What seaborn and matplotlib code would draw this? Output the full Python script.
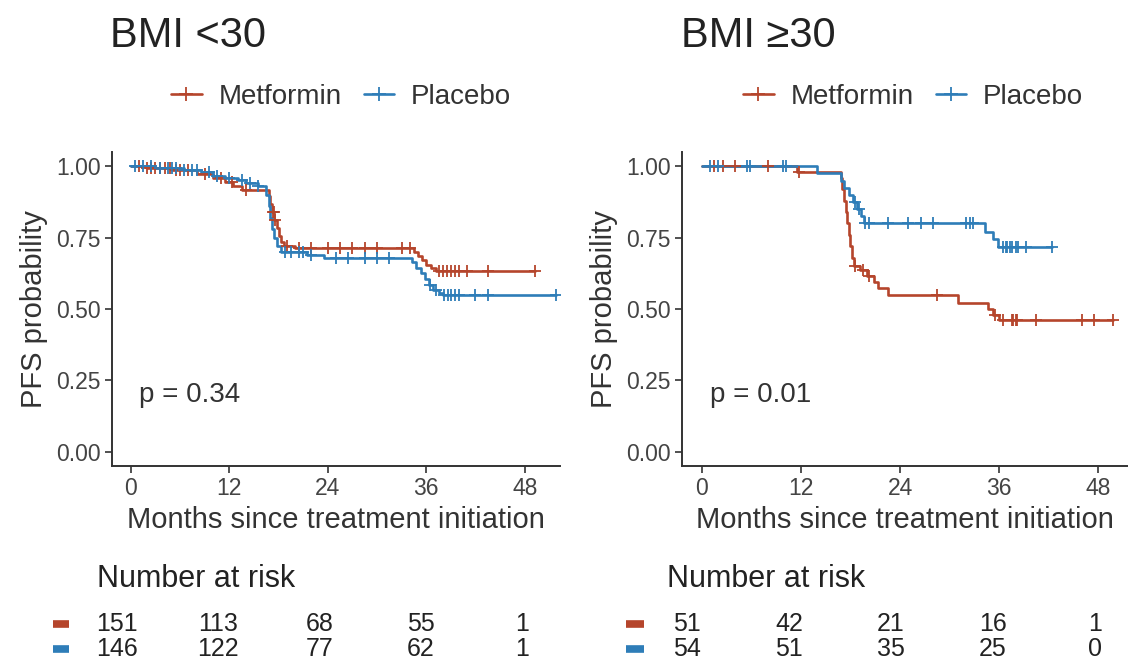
import numpy as np
import pandas as pd
import matplotlib
matplotlib.use("Agg")
import matplotlib.pyplot as plt
import seaborn as sns
from matplotlib.lines import Line2D

# ---------------- data ----------------
groups = ["Metformin", "Placebo"]
panel_titles = ["BMI <30", "BMI \u226530"]
p_values = ["p = 0.34", "p = 0.01"]
risk_times = [0, 12, 24, 36, 48]
xticks = [0, 12, 24, 36, 48]
yticks = [0.00, 0.25, 0.50, 0.75, 1.00]

# BMI < 30 : Metformin
lo_met_t = [0, 2.0, 5.0, 8.0, 10.0, 11.5, 12.5, 13.5, 16.8, 17.0, 17.2, 17.5, 17.8, 18.0, 18.3, 18.7, 20.0,
            34.5, 35.0, 35.5, 36.0, 36.6, 37.2, 49.3]
lo_met_s = [1.0, 0.993, 0.986, 0.972, 0.958, 0.944, 0.930, 0.916, 0.895, 0.868, 0.840, 0.812, 0.784, 0.756, 0.735, 0.721, 0.712,
            0.700, 0.685, 0.670, 0.655, 0.642, 0.632, 0.632]
lo_met_c = [1, 2, 2.5, 3, 3.5, 4.2, 4.8, 5.5, 6, 7, 9, 11, 12.3, 14, 17.3, 17.4, 17.6, 19, 20.5, 22, 24, 25.5, 27,
            28.5, 30, 33, 34, 37.5, 38, 38.5, 39, 39.5, 40, 41, 43.5, 49.3]

# BMI < 30 : Placebo
lo_pla_t = [0, 3.0, 6.5, 8.5, 10.0, 11.5, 13.0, 14.0, 15.5, 16.5, 16.8, 17.0, 17.2, 17.5, 17.8, 18.3, 21.5, 23.5,
            34.3, 34.8, 35.3, 35.8, 36.3, 36.8, 37.5, 38.0, 51.8]
lo_pla_s = [1.0, 0.993, 0.986, 0.979, 0.965, 0.958, 0.951, 0.940, 0.930, 0.900, 0.860, 0.820, 0.780, 0.750, 0.720, 0.700, 0.690, 0.678,
            0.665, 0.645, 0.625, 0.605, 0.585, 0.568, 0.556, 0.548, 0.548]
lo_pla_c = [0.5, 1.5, 2.5, 3.5, 4.5, 5, 5.5, 6.5, 7.5, 8, 9.5, 10.5, 12, 13.5, 14.5, 15.5, 18.8, 19.5, 20.5, 21, 22,
            25, 26.5, 28.5, 30, 31.5, 36.5, 37.2, 38.2, 38.6, 39, 39.5, 40, 42, 43.5, 51.8]

# BMI >= 30 : Metformin
hi_met_t = [0, 11.5, 16.8, 17.0, 17.2, 17.4, 17.6, 17.8, 18.0, 18.2, 18.4, 19.2, 20.0, 20.8, 21.3, 22.5,
            31.0, 34.7, 35.3, 36.0, 49.8]
hi_met_s = [1.0, 0.980, 0.960, 0.920, 0.880, 0.840, 0.800, 0.760, 0.720, 0.680, 0.650, 0.635, 0.615, 0.595, 0.575, 0.548,
            0.520, 0.500, 0.480, 0.460, 0.460]
hi_met_c = [1.5, 2.6, 4, 8, 11.8, 18.6, 19.5, 20.3, 28.5, 35.5, 36.5, 37.5, 37.7, 38, 38.2, 40.5, 46, 47.5, 49.8]

# BMI >= 30 : Placebo
hi_pla_t = [0, 14.0, 16.8, 17.2, 17.8, 18.3, 18.8, 19.3, 19.6, 34.3, 35.2, 35.8, 42.4]
hi_pla_s = [1.0, 0.975, 0.950, 0.925, 0.900, 0.875, 0.850, 0.825, 0.800, 0.770, 0.745, 0.716, 0.716]
hi_pla_c = [1, 2, 5.5, 5.8, 9.8, 10.2, 18.5, 19.0, 19.8, 20.2, 22.5, 25, 26.5, 28, 32, 32.5, 32.8,
            36.5, 36.8, 37, 37.3, 37.6, 38, 38.3, 39.2, 42.4]

risk_lo_met = [151, 113, 68, 55, 1]
risk_lo_pla = [146, 122, 77, 62, 1]
risk_hi_met = [51, 42, 21, 16, 1]
risk_hi_pla = [54, 51, 35, 25, 0]

# ---------------- style ----------------
RED = "#B5452C"
BLUE = "#2E7DB8"
colors = {"Metformin": RED, "Placebo": BLUE}

sns.set_theme(style="white")
plt.rcParams["font.family"] = ["Liberation Sans", "DejaVu Sans"]

W, H = 1128, 662
fig = plt.figure(figsize=(W / 100, H / 100), dpi=100)


def fx(px):
    return px / W


def fy(py):
    return (H - py) / H


panels = [
    dict(curves=[(lo_met_t, lo_met_s, lo_met_c, "Metformin"), (lo_pla_t, lo_pla_s, lo_pla_c, "Placebo")],
         ax_px=(112, 560), xlim=(-2.3, 52.3), risk=[risk_lo_met, risk_lo_pla],
         tab_px=(96, 560), tab_xlim=(-2.49, 52.49), dash=(-7.6, -5.7), title_x=110, legend_cx=341),
    dict(curves=[(hi_met_t, hi_met_s, hi_met_c, "Metformin"), (hi_pla_t, hi_pla_s, hi_pla_c, "Placebo")],
         ax_px=(682, 1128), xlim=(-2.4, 51.6), risk=[risk_hi_met, risk_hi_pla],
         tab_px=(666, 1128), tab_xlim=(-2.47, 51.88), dash=(-7.2, -5.0), title_x=681, legend_cx=913),
]

ax_top, ax_bot = 152, 466
for i, pnl in enumerate(panels):
    x0, x1 = pnl["ax_px"]
    ax = fig.add_axes([fx(x0), fy(ax_bot), (x1 - x0) / W, (ax_bot - ax_top) / H])
    for t, s, c, name in pnl["curves"]:
        df = pd.DataFrame({"time": t, "surv": s})
        sns.lineplot(data=df, x="time", y="surv", ax=ax, color=colors[name], lw=1.9,
                     drawstyle="steps-post", estimator=None, sort=True)
        ta = np.asarray(t)
        sa = np.asarray(s)
        cens = np.asarray(c)
        idx = np.searchsorted(ta, cens, side="right") - 1
        cdf = pd.DataFrame({"time": cens, "surv": sa[idx]})
        sns.scatterplot(data=cdf, x="time", y="surv", ax=ax, marker="+", s=65,
                        color=colors[name], linewidth=1.3, zorder=3)
    ax.set_xlim(*pnl["xlim"])
    ax.set_ylim(-0.05, 1.05)
    ax.set_xticks(xticks)
    ax.set_yticks(yticks)
    ax.set_yticklabels([f"{v:.2f}" for v in yticks])
    for sp in ["top", "right"]:
        ax.spines[sp].set_visible(False)
    for sp in ["left", "bottom"]:
        ax.spines[sp].set_color("#333333")
        ax.spines[sp].set_linewidth(1.4)
    ax.tick_params(axis="both", which="major", direction="out", length=5, width=1.2,
                   color="#333333", labelsize=16.5, labelcolor="#444444", pad=3,
                   bottom=True, left=True)
    ax.set_xlabel("Months since treatment initiation", fontsize=21, color="#333333", labelpad=4)
    ax.set_ylabel("PFS probability", fontsize=21, color="#333333", labelpad=6)
    ax.text(1.0, 0.2, p_values[i], fontsize=20, color="#333333", ha="left", va="center")
    ax.grid(False)

    # title
    fig.text(fx(pnl["title_x"]), fy(47), panel_titles[i], fontsize=30, color="#222222",
             ha="left", va="baseline", family=["Liberation Sans", "DejaVu Sans"])

    # legend
    handles = [Line2D([0], [0], color=colors[g], lw=1.9, marker="+", markersize=10, markeredgewidth=1.3)
               for g in groups]
    fig.legend(handles, groups, loc="center", bbox_to_anchor=(fx(pnl["legend_cx"]), fy(97)),
               ncol=2, frameon=False, fontsize=20, handlelength=1.1, handletextpad=0.6,
               columnspacing=0.8, labelcolor="#333333")

    # risk table
    tx0, tx1 = pnl["tab_px"]
    tab = fig.add_axes([fx(tx0), fy(662), (tx1 - tx0) / W, (662 - 600) / H])
    tab.set_xlim(*pnl["tab_xlim"])
    tab.set_ylim(1.52, -0.96)
    tab.axis("off")
    for r, (g, vals) in enumerate(zip(groups, pnl["risk"])):
        for tt, v in zip(risk_times, vals):
            tab.text(tt, r, str(v), ha="center", va="center", fontsize=18, color="#222222")
        tab.plot(list(pnl["dash"]), [r, r], color=colors[g], lw=5.5, solid_capstyle="butt", clip_on=False)
    fig.text(fx(tx0 + 1), fy(587), "Number at risk", fontsize=22, color="#222222",
             ha="left", va="baseline")

fig.savefig("out.png", dpi=100)
